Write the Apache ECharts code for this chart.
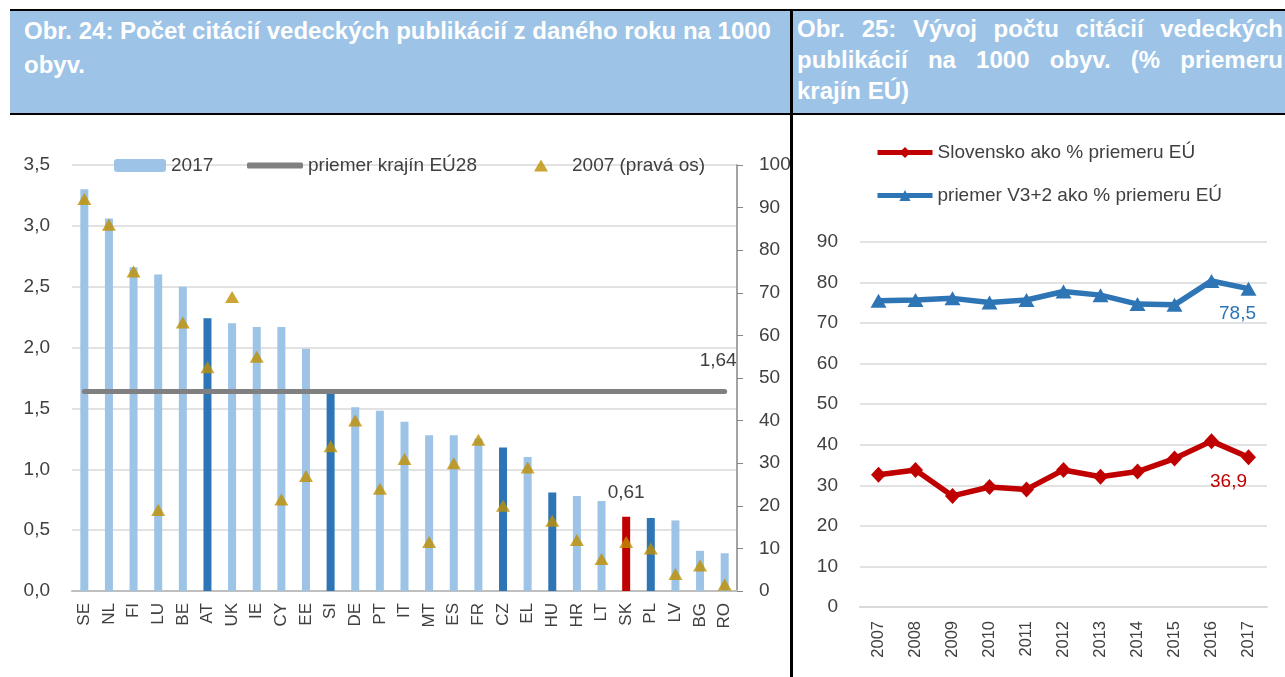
<!DOCTYPE html>
<html>
<head>
<meta charset="utf-8">
<title>citacie</title>
<script src="https://cdn.jsdelivr.net/npm/echarts@6/dist/echarts.min.js"></script>
<style>
  body { margin: 0; background: #fff; font-family: "Liberation Sans", Arial, sans-serif; }
  .head { position: absolute; top: 11px; height: 102px; background: #9DC3E6; color: #fff; font-weight: bold; box-sizing: border-box; white-space: nowrap; }
  #h1 { left: 10px; width: 780px; padding: 3px 0 0 14px; font-size: 24px; line-height: 34px; white-space: normal; }
  #h2 { left: 793px; width: 492px; padding: 2px 2px 0 4px; font-size: 24px; line-height: 31px; }
  #h2 .j { text-align: justify; text-align-last: justify; }
  .hline { position: absolute; background: #000; }
</style>
</head>
<body>
<div id="main" style="position:absolute;left:0;top:0;width:1285px;height:677px;"></div>
<div class="hline" style="left:10px;top:9px;width:1275px;height:2px;"></div>
<div class="head" id="h1">Obr. 24: Počet citácií vedeckých publikácií z daného roku na 1000 obyv.</div>
<div class="head" id="h2">
  <div class="j">Obr. 25: Vývoj počtu citácií vedeckých</div>
  <div class="j">publikácií na 1000 obyv. (% priemeru</div>
  <div>krajín EÚ)</div>
</div>
<div class="hline" style="left:10px;top:113px;width:1275px;height:2px;"></div>
<div class="hline" style="left:790px;top:9px;width:3px;height:668px;"></div>
<script>
  var FONT = '"Liberation Sans", Arial, sans-serif';

  // Obr. 24
  var countries = ['SE','NL','FI','LU','BE','AT','UK','IE','CY','EE','SI','DE','PT','IT','MT','ES','FR','CZ','EL','HU','HR','LT','SK','PL','LV','BG','RO'];
  var cit2017 = [3.30,3.06,2.66,2.60,2.50,2.24,2.20,2.17,2.17,1.99,1.64,1.51,1.48,1.39,1.28,1.28,1.25,1.18,1.10,0.81,0.78,0.74,0.61,0.60,0.58,0.33,0.31];
  var cit2007 = [92,86,75,19,63,52.5,69,55,21.5,27,34,40,24,31,11.5,30,35.5,20,29,16.5,12,7.5,11.5,10,4,6,1.5];
  var euAvg = 1.64;
  var darkBlue = ['AT','SI','CZ','HU','PL'];
  var redBar = ['SK'];

  // Obr. 25
  var years = ['2007','2008','2009','2010','2011','2012','2013','2014','2015','2016','2017'];
  var skPct = [32.6,33.8,27.4,29.6,29.0,33.8,32.1,33.4,36.6,40.9,36.9];
  var v3Pct = [75.5,75.7,76.1,75.1,75.7,77.8,76.9,74.7,74.5,80.4,78.5];

  function fmt(v) { return String(v).replace('.', ','); }

  var barData = countries.map(function (c, i) {
    var col = '#9DC3E6';
    if (darkBlue.indexOf(c) >= 0) col = '#2E75B6';
    if (redBar.indexOf(c) >= 0) col = '#C00000';
    var d = { value: cit2017[i], itemStyle: { color: col } };
    if (redBar.indexOf(c) >= 0) {
      d.label = { show: true, position: 'top', distance: 14, formatter: fmt(cit2017[i]), color: '#404040', fontSize: 19, fontFamily: FONT };
    }
    return d;
  });
  var avgData = countries.map(function () { return euAvg; });

  var txt = { color: '#404040', fontSize: 19, fontFamily: FONT };

  var chart = echarts.init(document.getElementById('main'));
  chart.setOption({
    animation: false,
    textStyle: { fontFamily: FONT },
    legend: [
      { left: 109, top: 151, itemWidth: 52, itemHeight: 13, textStyle: txt, data: ['2017'] },
      { left: 242, top: 151, itemWidth: 56, itemHeight: 6, textStyle: txt, data: [{ name: 'priemer krajín EÚ28', icon: 'roundRect' }] },
      { left: 529, top: 151, itemWidth: 14, itemHeight: 12, textStyle: { color: '#404040', fontSize: 19, fontFamily: FONT, padding: [0, 0, 0, 19] }, data: [{ name: '2007 (pravá os)', icon: 'triangle' }] },
      { left: 870, top: 138, orient: 'vertical', itemWidth: 55, itemHeight: 14, itemGap: 24, textStyle: txt,
        lineStyle: { width: 5 }, data: ['Slovensko ako % priemeru EÚ', 'priemer V3+2 ako % priemeru EÚ'] }
    ],
    grid: [
      { left: 72, top: 165, width: 665, height: 426 },
      { left: 860, top: 242, width: 407, height: 365 }
    ],
    xAxis: [
      {
        gridIndex: 0, type: 'category', data: countries,
        axisLine: { lineStyle: { color: '#BFBFBF', width: 2 } },
        axisTick: { show: false },
        axisLabel: { rotate: 90, margin: 12, color: '#404040', fontSize: 17, fontFamily: FONT, interval: 0 }
      },
      {
        gridIndex: 1, type: 'category', data: years,
        axisLine: { lineStyle: { color: '#D9D9D9', width: 2 } },
        axisTick: { show: false },
        axisLabel: { rotate: 90, margin: 14, color: '#404040', fontSize: 16.5, fontFamily: FONT, interval: 0 }
      }
    ],
    yAxis: [
      {
        gridIndex: 0, type: 'value', min: 0, max: 3.5, interval: 0.5,
        axisLine: { show: false }, axisTick: { show: false },
        splitLine: { lineStyle: { color: '#D9D9D9', width: 1.5 } },
        axisLabel: { margin: 22, color: '#404040', fontSize: 19, fontFamily: FONT, formatter: function (v) { return v.toFixed(1).replace('.', ','); } }
      },
      {
        gridIndex: 0, type: 'value', position: 'right', min: 0, max: 100, interval: 10,
        axisLine: { show: true, lineStyle: { color: '#868686', width: 1.5 } },
        axisTick: { show: true, length: 6, lineStyle: { color: '#868686' } },
        splitLine: { show: false },
        axisLabel: { margin: 22, color: '#404040', fontSize: 19, fontFamily: FONT }
      },
      {
        gridIndex: 1, type: 'value', min: 0, max: 90, interval: 10,
        axisLine: { show: false }, axisTick: { show: false },
        splitLine: { lineStyle: { color: '#D9D9D9', width: 1.5 } },
        axisLabel: { margin: 22, color: '#404040', fontSize: 19, fontFamily: FONT }
      }
    ],
    series: [
      {
        name: '2017', type: 'bar', xAxisIndex: 0, yAxisIndex: 0, barWidth: 8,
        itemStyle: { color: '#9DC3E6' }, data: barData, z: 2
      },
      {
        name: 'priemer krajín EÚ28', type: 'line', xAxisIndex: 0, yAxisIndex: 0,
        symbol: 'none', data: avgData, z: 3,
        itemStyle: { color: '#808080' },
        lineStyle: { color: '#808080', width: 5, cap: 'round' },
        endLabel: { show: true, offset: [-33, -31], color: '#404040', fontSize: 19, fontFamily: FONT, formatter: fmt(euAvg) }
      },
      {
        name: '2007 (pravá os)', type: 'scatter', xAxisIndex: 0, yAxisIndex: 1,
        symbol: 'triangle', symbolSize: [14, 12], itemStyle: { color: '#BF9000' },
        data: cit2007, z: 4
      },
      {
        name: 'Slovensko ako % priemeru EÚ', type: 'line', xAxisIndex: 1, yAxisIndex: 2,
        symbol: 'diamond', symbolSize: [15, 16], data: skPct,
        itemStyle: { color: '#C00000' }, lineStyle: { color: '#C00000', width: 5.5 },
        label: {
          show: true, position: 'bottom', offset: [-20, 2], color: '#C00000', fontSize: 19, fontFamily: FONT,
          formatter: function (p) { return p.dataIndex === years.length - 1 ? fmt(p.value) : ''; }
        }
      },
      {
        name: 'priemer V3+2 ako % priemeru EÚ', type: 'line', xAxisIndex: 1, yAxisIndex: 2,
        symbol: 'triangle', symbolSize: [16, 14], data: v3Pct,
        itemStyle: { color: '#2E75B6' }, lineStyle: { color: '#2E75B6', width: 5.5 },
        label: {
          show: true, position: 'bottom', offset: [-11, 4], color: '#2E75B6', fontSize: 19, fontFamily: FONT,
          formatter: function (p) { return p.dataIndex === years.length - 1 ? fmt(p.value) : ''; }
        }
      }
    ]
  });
</script>
</body>
</html>
